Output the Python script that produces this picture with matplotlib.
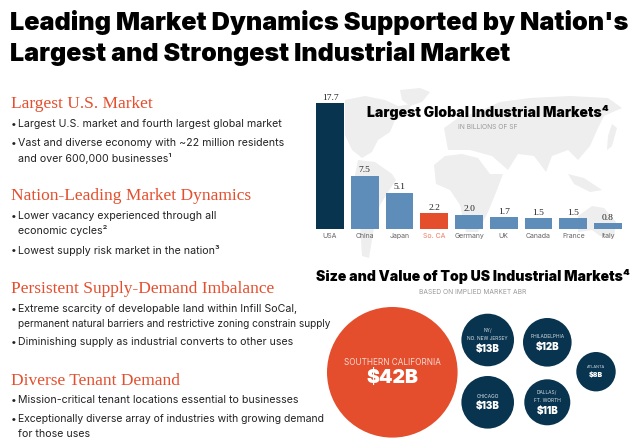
import matplotlib
matplotlib.use('Agg')
import matplotlib.pyplot as plt
from matplotlib.patches import Circle, Polygon

countries = ['USA', 'China', 'Japan', 'So. CA', 'Germany', 'UK', 'Canada', 'France', 'Italy']
sizes = [17.7, 7.5, 5.1, 2.2, 2.0, 1.7, 1.5, 1.5, 0.8]
size_labels = ['17.7', '7.5', '5.1', '2.2', '2.0', '1.7', '1.5', '1.5', '0.8']

market_names = ['SOUTHERN CALIFORNIA', 'NY/\nNO. NEW JERSEY', 'PHILADELPHIA', 'CHICAGO', 'DALLAS/\nFT. WORTH', 'ATLANTA']
market_values = ['$42B', '$13B', '$12B', '$13B', '$11B', '$8B']

headings = ['Largest U.S. Market', 'Nation-Leading Market Dynamics', 'Persistent Supply-Demand Imbalance', 'Diverse Tenant Demand']
bullets = [
    'Largest U.S. market and fourth largest global market',
    'Vast and diverse economy with ~22 million residents\nand over 600,000 businesses¹',
    'Lower vacancy experienced through all\neconomic cycles²',
    'Lowest supply risk market in the nation³',
    'Extreme scarcity of developable land within Infill SoCal,\npermanent natural barriers and restrictive zoning constrain supply',
    'Diminishing supply as industrial converts to other uses',
    'Mission-critical tenant locations essential to businesses',
    'Exceptionally diverse array of industries with growing demand\nfor those uses',
]

ORANGE = '#e54e2d'
NAVY = '#08344f'
BLUE = '#5f8db9'
TXT = '#222222'
SANS = ['Inter', 'DejaVu Sans']

fig = plt.figure(figsize=(6.4, 4.4), dpi=100)
ax = fig.add_axes([0, 0, 1, 1])
ax.set_xlim(0, 640)
ax.set_ylim(440, 0)
ax.axis('off')

# rough world map behind the bar chart, pixel coords
land = [
    [(345, 100), (365, 96), (385, 100), (398, 106), (412, 104), (405, 116), (395, 120), (390, 132), (378, 140), (372, 152), (362, 158), (352, 150), (345, 135)],
    [(400, 90), (420, 88), (430, 92), (422, 102), (410, 106), (402, 100)],
    [(358, 160), (375, 162), (392, 174), (396, 180), (388, 192), (380, 205), (374, 228), (369, 258), (362, 256), (360, 225), (352, 190)],
    [(434, 165), (445, 156), (462, 154), (478, 158), (490, 174), (503, 174), (495, 195), (488, 212), (478, 232), (466, 232), (460, 205), (450, 190), (436, 184)],
    [(444, 128), (458, 118), (478, 112), (500, 102), (530, 98), (570, 96), (608, 98), (622, 108), (604, 116), (598, 128), (590, 146), (578, 160), (568, 150), (552, 156), (546, 172), (534, 156), (518, 154), (508, 170), (492, 156), (470, 150), (448, 150)],
    [(578, 216), (592, 206), (604, 208), (616, 222), (614, 238), (600, 236), (592, 230), (578, 232)],
    [(568, 174), (584, 178), (602, 190), (590, 192), (574, 184)],
    [(612, 124), (617, 128), (612, 146), (607, 150), (608, 136)],
]
for pts in land:
    ax.add_patch(Polygon(pts, closed=True, fc='#eeeeee', ec='none', zorder=0))

# title
ax.text(10, 30, "Leading Market Dynamics Supported by Nation's", fontsize=18.2, weight='black', family=SANS, color='black', va='baseline')
ax.text(10, 61, 'Largest and Strongest Industrial Market', fontsize=18, weight='black', family=SANS, color='black', va='baseline')

# left column
head_y = [104, 196, 289, 381]
for h, y in zip(headings, head_y):
    ax.text(11, y, h, fontsize=12.5, family='Liberation Serif', color=ORANGE, va='center')
bullet_y = [124, 143, 216, 250, 309, 342, 400, 419]
for b, y in zip(bullets, bullet_y):
    ax.text(11, y, '•', fontsize=7.5, family=SANS, color=TXT, va='center')
    for i, line in enumerate(b.split('\n')):
        fs = 7.65
        if len(line) > 60:
            fs = 7.5
        if len(line) > 62:
            fs = 7.25
        ax.text(18, y + i * 15, line, fontsize=fs, family=SANS, color=TXT, va='center')

# bars
bx = fig.add_axes([312.6 / 640, (440 - 229) / 440, 312.8 / 640, 127.8 / 440])
bx.patch.set_alpha(0)
cols = [NAVY] + [BLUE] * 2 + [ORANGE] + [BLUE] * 5
bx.bar(range(len(sizes)), sizes, width=0.8, color=cols)
bx.set_xlim(-0.5, 8.5)
bx.set_ylim(0, 18)
for s in bx.spines.values():
    s.set_visible(False)
bx.set_yticks([])
bx.set_xticks(range(len(sizes)))
bx.set_xticklabels(countries, fontsize=5, family=SANS, color='#666666')
bx.get_xticklabels()[3].set_color('#ee7d63')
bx.tick_params(axis='x', length=0, pad=3)
for i, (v, t) in enumerate(zip(sizes, size_labels)):
    bx.text(i, v + 0.2, t, ha='center', va='bottom', fontsize=6.8, family='Liberation Serif', color='#222222')

ax.text(488, 113, 'Largest Global Industrial Markets⁴', ha='center', va='center', fontsize=10.1, weight='black', family=SANS, color='black')
ax.text(488, 127, 'IN BILLIONS OF SF', ha='center', va='center', fontsize=4.8, family=SANS, color='#999999')
ax.text(473, 277, 'Size and Value of Top US Industrial Markets⁴', ha='center', va='center', fontsize=10.1, weight='black', family=SANS, color='black')
ax.text(473, 292.5, 'BASED ON IMPLIED MARKET ABR', ha='center', va='center', fontsize=4.8, family=SANS, color='#999999')

# bubbles
centers = [(392.3, 372.3), (487.7, 340), (547.3, 342.3), (487.7, 402.3), (547.3, 402.3), (596, 371.7)]
radii = [65.3, 26.3, 24.3, 26.3, 23, 19.7]
name_fs = [5.9, 3.5, 3.5, 3.5, 3.5, 2.8]
val_fs = [14, 7, 7, 7, 7, 5]
name_off = [-9.6, -5.5, -5.6, -5.6, -5.8, -4.4]
val_off = [6, 9, 4.4, 4, 8.4, 3.3]
for k, ((cx, cy), r) in enumerate(zip(centers, radii)):
    ax.add_patch(Circle((cx, cy), r, fc=ORANGE if k == 0 else NAVY, ec='none'))
    ax.text(cx, cy + name_off[k], market_names[k], ha='center', va='center', fontsize=name_fs[k], family=SANS, color='#f3d9d2' if k == 0 else '#d5dde3', linespacing=1.7)
    ax.text(cx, cy + val_off[k], market_values[k], ha='center', va='center', fontsize=val_fs[k], weight='black', family=SANS, color='white')

fig.savefig('out.png', dpi=100)
